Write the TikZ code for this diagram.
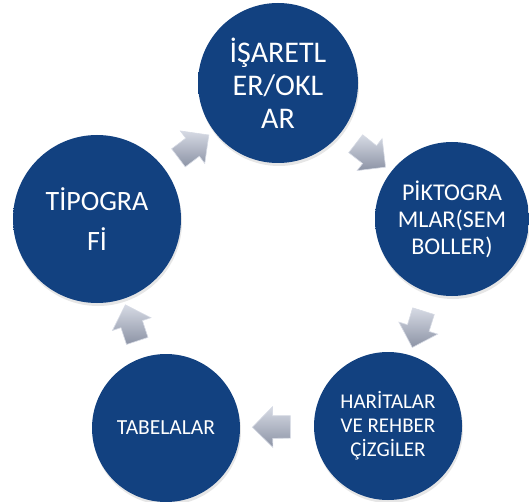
\documentclass[tikz,border=0pt]{standalone}
\usepackage{fontspec}
\setmainfont{Carlito}
\usetikzlibrary{shapes.arrows,shadows}

\definecolor{discblue}{RGB}{18,65,128}
\definecolor{discrim}{RGB}{125,165,220}
\definecolor{arrowlight}{RGB}{214,218,228}
\definecolor{arrowdark}{RGB}{140,147,165}

\pgfdeclareradialshading{discshade}{\pgfpoint{0bp}{0bp}}{%
  color(0bp)=(discblue); color(43bp)=(discblue); color(47bp)=(discrim);
  color(49bp)=(discblue); color(50bp)=(discblue)}

\begin{document}
\begin{tikzpicture}[x=1pt,y=-1pt,
  disc/.style={circle,shading=discshade,text=white,align=center,inner sep=0pt,
    drop shadow={shadow xshift=1pt,shadow yshift=-3pt,opacity=0.2}},
  blockarrow/.style={single arrow,sloped,allow upside down,minimum height=38pt,
    minimum width=40pt,single arrow head extend=9pt,inner xsep=0pt,inner ysep=11pt,
    top color=arrowlight,bottom color=arrowdark,draw=arrowlight,line width=0.6pt}]
  \useasboundingbox (0,0) rectangle (529,502);

  % Discs
  \node[disc,minimum size=160pt,font=\fontsize{30}{33}\selectfont] (signs) at (278,83)
    {İŞARETL\\ER/OKL\\AR};
  \node[disc,minimum size=154pt,font=\fontsize{24}{27}\selectfont] (picto) at (452,219)
    {PİKTOGRA\\MLAR(SEM\\BOLLER)};
  \node[disc,minimum size=148pt,font=\fontsize{21}{24}\selectfont] (maps) at (388,426)
    {HARİTALAR\\VE REHBER\\ÇİZGİLER};
  \node[disc,minimum size=148pt,font=\fontsize{21.5}{24}\selectfont] (boards) at (166,428)
    {TABELALAR};
  \node[disc,minimum size=168pt,font=\fontsize{28}{40}\selectfont] (typo) at (97,219)
    {TİPOGRA\\Fİ};

  % Cycle arrows
  \path (signs) -- node[blockarrow] (a1) {} (picto);
  \path (picto) -- node[blockarrow] (a2) {} (maps);
  \path (maps) -- node[blockarrow] (a3) {} (boards);
  \path (boards) -- node[blockarrow] (a4) {} (typo);
  \path (typo) -- node[blockarrow] (a5) {} (signs);
\end{tikzpicture}
\end{document}
